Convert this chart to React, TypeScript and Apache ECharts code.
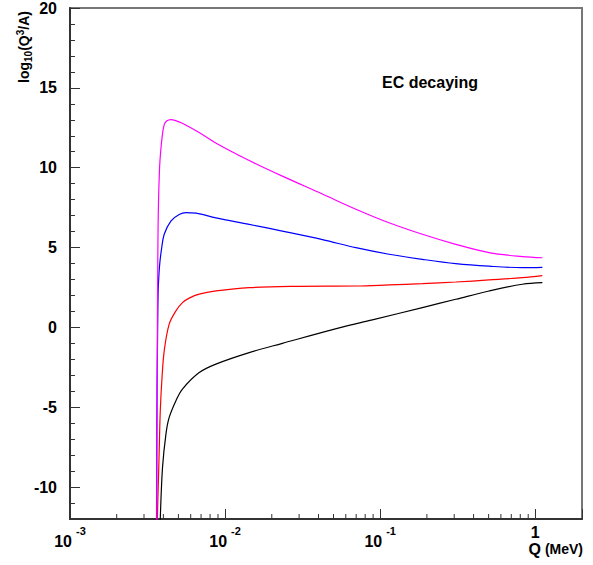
import React, { useEffect, useRef } from 'react';
import * as echarts from 'echarts';

// ---- data (Q in MeV, value = log10(Q^3/A)) ----
const qMagenta = [0.00362, 0.00363, 0.003645, 0.00366, 0.00368, 0.0037, 0.00373, 0.00376, 0.0038, 0.00392, 0.00405, 0.0042, 0.00447, 0.0048, 0.0053, 0.0068, 0.0087, 0.0143, 0.0234, 0.0424, 0.0697, 0.114, 0.187, 0.307, 0.503, 0.825, 1.11];
const vMagenta = [-14, -10, -4, 0, 4, 6.5, 8.3, 9.36, 10.4, 11.86, 12.7, 12.92, 13.01, 12.95, 12.78, 12.2, 11.55, 10.45, 9.47, 8.35, 7.4, 6.55, 5.83, 5.2, 4.68, 4.43, 4.36];

const qBlue = [0.00361, 0.00362, 0.00364, 0.00367, 0.0037, 0.00375, 0.0038, 0.00389, 0.00405, 0.00447, 0.00506, 0.0056, 0.0065, 0.00872, 0.0143, 0.0234, 0.0424, 0.0697, 0.114, 0.187, 0.307, 0.503, 0.825, 1.11];
const vBlue = [-14, -9, -4, -0.5, 2.2, 3.4, 4.1, 4.9, 5.83, 6.66, 7.07, 7.18, 7.15, 6.86, 6.45, 6.03, 5.5, 4.99, 4.58, 4.26, 3.99, 3.83, 3.74, 3.76];

const qRed = [0.00362, 0.00368, 0.00373, 0.00376, 0.00382, 0.00392, 0.00405, 0.00436, 0.00482, 0.00531, 0.00587, 0.00681, 0.00872, 0.0143, 0.030, 0.0697, 0.114, 0.187, 0.307, 0.503, 0.825, 1.11];
const vRed = [-14, -11, -9, -7.72, -5.22, -3.14, -1.47, 0.2, 1.03, 1.55, 1.83, 2.08, 2.28, 2.49, 2.57, 2.59, 2.66, 2.74, 2.84, 2.97, 3.11, 3.24];

const qBlack = [0.00379, 0.00382, 0.00395, 0.004155, 0.00436, 0.00482, 0.00531, 0.00681, 0.00872, 0.0143, 0.0234, 0.0544, 0.089, 0.187, 0.307, 0.503, 0.825, 1.11];
const vBlack = [-14, -12, -8.76, -6.68, -5.64, -4.59, -3.86, -2.83, -2.30, -1.58, -1.0, -0.03, 0.47, 1.24, 1.76, 2.28, 2.70, 2.80];

const xMinorTicks = [0.002, 0.003, 0.004, 0.005, 0.006, 0.007, 0.008, 0.009, 0.02, 0.03, 0.04, 0.05, 0.06, 0.07, 0.08, 0.09, 0.2, 0.3, 0.4, 0.5, 0.6, 0.7, 0.8, 0.9];

const Q_MIN = 0.001;
const Q_MAX = 2;
const Y_MIN = -12;
const Y_MAX = 20;
const Y_STEP = 5;

const FONT = '"Liberation Sans", Arial, Helvetica, sans-serif';

const zip = (q: number[], v: number[]) => q.map((x, i) => [x, v[i]]);

export default function App() {
  const ref = useRef<HTMLDivElement>(null);

  useEffect(() => {
    const chart = echarts.init(ref.current!, null, { renderer: 'svg' });
    const lineSeries = (data: number[][], color: string) => ({
      type: 'line',
      data,
      showSymbol: false,
      symbol: 'none',
      smooth: 0.35,
      clip: true,
      lineStyle: { color, width: 1.2 },
      itemStyle: { color },
      silent: true,
    });
    chart.setOption({
      animation: false,
      backgroundColor: '#ffffff',
      textStyle: { fontFamily: FONT },
      grid: {
        left: 70, right: 11, top: 7, bottom: 46,
        show: true, borderColor: '#777', borderWidth: 2, backgroundColor: 'transparent',
      },
      xAxis: {
        type: 'log',
        logBase: 10,
        min: Q_MIN,
        max: Q_MAX,
        axisLine: { show: true, onZero: false, lineStyle: { color: '#333', width: 2 } },
        axisTick: { show: true, inside: true, length: 10, lineStyle: { color: '#333', width: 1 } },
        splitLine: { show: false },
        axisLabel: {
          margin: 6,
          color: '#000',
          formatter: (val: number) => {
            const e = Math.log10(val);
            const r = Math.round(e);
            if (Math.abs(e - r) > 1e-6) return '';
            if (r === 0) return '{one|1}';
            return `{b|10}{e|${r}}`;
          },
          rich: {
            b: { fontSize: 16, fontWeight: 'bold', fontFamily: FONT, lineHeight: 32, color: '#000' },
            e: { fontSize: 11, fontWeight: 'bold', fontFamily: FONT, lineHeight: 12, verticalAlign: 'top', padding: [0, 0, 0, 4], color: '#000' },
            one: { fontSize: 16, fontWeight: 'bold', fontFamily: FONT, lineHeight: 12, padding: [3, 0, 0, 0], color: '#000' },
          },
        },
      },
      yAxis: [
        {
          type: 'value',
          min: Y_MIN,
          max: Y_MAX,
          splitNumber: 6,
          axisLine: { show: true, onZero: false, lineStyle: { color: '#333', width: 2 } },
          axisTick: { show: true, inside: true, length: 10, lineStyle: { color: '#333', width: 1 } },
          splitLine: { show: false },
          axisLabel: {
            margin: 13,
            color: '#000',
            fontSize: 16,
            fontWeight: 'bold',
            fontFamily: FONT,
            formatter: (v: number) => (Math.abs(v % Y_STEP) > 1e-9 ? '' : String(v)),
          },
        },
        {
          type: 'value',
          min: Y_MIN,
          max: Y_MAX,
          interval: 1,
          position: 'left',
          axisLine: { show: false, onZero: false },
          axisTick: { show: true, inside: true, length: 5, lineStyle: { color: '#333', width: 1 } },
          splitLine: { show: false },
          axisLabel: { show: false },
        },
      ],
      series: [
        {
          type: 'custom',
          silent: true,
          clip: false,
          data: xMinorTicks.map((q) => [q, Y_MIN]),
          encode: { x: 0, y: 1 },
          renderItem: (params: any, api: any) => {
            const p = api.coord([api.value(0), api.value(1)]);
            return {
              type: 'line',
              shape: { x1: p[0], y1: p[1], x2: p[0], y2: p[1] - 5 },
              style: { stroke: '#333', lineWidth: 1 },
            };
          },
        },
        lineSeries(zip(qBlack, vBlack), '#000000'),
        lineSeries(zip(qRed, vRed), '#ff0000'),
        lineSeries(zip(qBlue, vBlue), '#0000ff'),
        lineSeries(zip(qMagenta, vMagenta), '#ff00ff'),
      ],
      graphic: [
        {
          type: 'text',
          x: 382,
          y: 82,
          style: {
            text: 'EC decaying',
            font: `bold 16px ${FONT}`,
            fill: '#000',
            align: 'left',
            verticalAlign: 'middle',
          },
        },
        {
          type: 'text',
          x: 24,
          y: 47,
          rotation: Math.PI / 2,
          style: {
            text: '{n|log}{s|10}{n|(Q}{p|3}{n|/A)}',
            align: 'center',
            verticalAlign: 'middle',
            fill: '#000',
            rich: {
              n: { fontSize: 14, fontWeight: 'bold', fontFamily: FONT, lineHeight: 18, fill: '#000' },
              s: { fontSize: 10, fontWeight: 'bold', fontFamily: FONT, lineHeight: 10, verticalAlign: 'bottom', fill: '#000' },
              p: { fontSize: 10, fontWeight: 'bold', fontFamily: FONT, lineHeight: 10, verticalAlign: 'top', fill: '#000' },
            },
          },
        },
        {
          type: 'text',
          x: 583,
          y: 549,
          style: {
            text: '{q|Q}{m| (MeV)}',
            align: 'right',
            verticalAlign: 'middle',
            fill: '#000',
            rich: {
              q: { fontSize: 16, fontWeight: 'bold', fontFamily: FONT, fill: '#000' },
              m: { fontSize: 14, fontWeight: 'bold', fontFamily: FONT, fill: '#000' },
            },
          },
        },
      ],
    });
    return () => chart.dispose();
  }, []);

  return <div ref={ref} style={{ position: 'absolute', left: 0, top: 0, width: 593, height: 565 }} />;
}
